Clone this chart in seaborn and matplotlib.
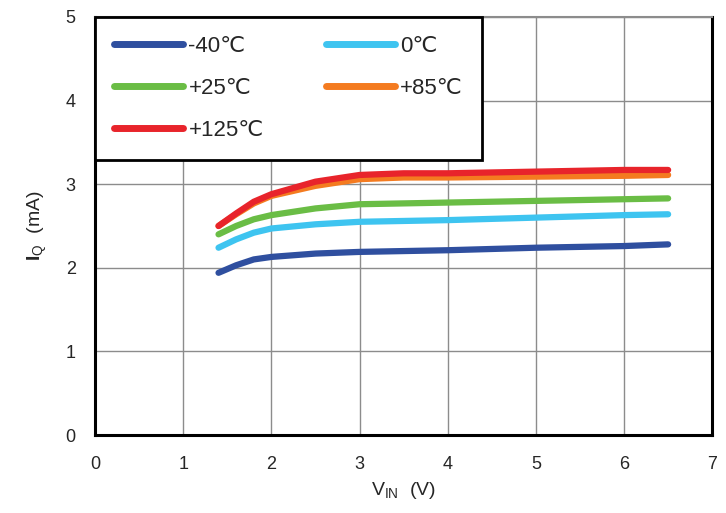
import matplotlib
matplotlib.use("Agg")
import matplotlib.pyplot as plt
import pandas as pd
import seaborn as sns

# data
V_IN = [1.4, 1.6, 1.8, 2.0, 2.5, 3.0, 3.5, 4.0, 5.0, 6.0, 6.5]
IQ_M40 = [1.94, 2.03, 2.10, 2.13, 2.17, 2.19, 2.20, 2.21, 2.24, 2.26, 2.28]
IQ_0 = [2.24, 2.34, 2.42, 2.47, 2.52, 2.55, 2.56, 2.57, 2.60, 2.63, 2.64]
IQ_25 = [2.40, 2.50, 2.58, 2.63, 2.71, 2.76, 2.77, 2.78, 2.80, 2.82, 2.83]
IQ_85 = [2.50, 2.64, 2.77, 2.86, 2.98, 3.06, 3.08, 3.08, 3.09, 3.10, 3.11]
IQ_125 = [2.50, 2.65, 2.79, 2.88, 3.03, 3.11, 3.13, 3.13, 3.15, 3.17, 3.17]

LABELS = ["-40℃", "0℃", "+25℃", "+85℃", "+125℃"]
COLORS = ["#2f4f9f", "#3ec4f0", "#6abd45", "#f47b20", "#e8242b"]

sns.set_style("white")
plt.rcParams["font.family"] = ["Liberation Sans", "DejaVu Sans"]
plt.rcParams["mathtext.fontset"] = "custom"
plt.rcParams["mathtext.rm"] = "Liberation Sans"
plt.rcParams["mathtext.bf"] = "Liberation Sans:bold"

df = pd.DataFrame({
    "V": V_IN * 5,
    "I": IQ_M40 + IQ_0 + IQ_25 + IQ_85 + IQ_125,
    "T": [lab for lab in LABELS for _ in V_IN],
})

fig = plt.figure(figsize=(7.26, 5.13), dpi=100)
ax = fig.add_axes([0.131, 0.152, 0.850, 0.815])

sns.lineplot(data=df, x="V", y="I", hue="T", hue_order=LABELS,
             palette=COLORS, linewidth=4.5, ax=ax, sort=True)
for line in ax.get_lines():
    line.set_solid_capstyle("round")
    line.set_solid_joinstyle("round")

ax.set_xlim(0, 7)
ax.set_ylim(0, 5)
ax.set_xticks(range(0, 8))
ax.set_yticks(range(0, 6))
ax.tick_params(axis="x", labelsize=13, length=0, pad=15)
ax.tick_params(axis="y", labelsize=13, length=0, pad=14)
ax.grid(True, color="#8c8c8c", linewidth=1)
ax.set_axisbelow(True)
for side in ["left", "bottom", "right"]:
    ax.spines[side].set_color("black")
    ax.spines[side].set_linewidth(2.2)
ax.spines["top"].set_color("#8c8c8c")
ax.spines["top"].set_linewidth(1.5)

ax.set_xlabel(r"V$_{\mathrm{IN}}$  (V)", fontsize=14, labelpad=5)
ax.set_ylabel(r"$\mathbf{I}_{\mathrm{Q}}$  (mA)", fontsize=14, labelpad=12)

# legend filled row by row like the reference
handles, labels = ax.get_legend_handles_labels()
order = [0, 2, 4, 1, 3]
leg = ax.legend([handles[i] for i in order], [labels[i] for i in order],
                loc="upper left", ncol=2, fontsize=16,
                frameon=True, fancybox=False, edgecolor="black",
                borderaxespad=0, handlelength=3.1, handletextpad=0.25,
                columnspacing=2.8, labelspacing=0.95, borderpad=0.85,
                framealpha=1)
leg.get_frame().set_linewidth(2)
for h in leg.get_lines():
    h.set_linewidth(5)
    h.set_solid_capstyle("round")

fig.savefig("out.png", dpi=100)
